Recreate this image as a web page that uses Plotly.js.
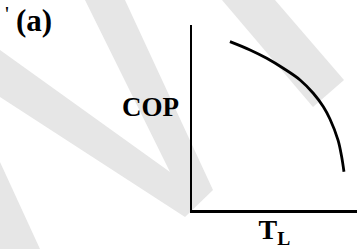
<!DOCTYPE html>
<html>
<head>
<meta charset="utf-8">
<script src="https://cdn.plot.ly/plotly-3.0.1.min.js"></script>
<style>
  html, body { margin: 0; padding: 0; background: #ffffff; }
  #chart { width: 357px; height: 249px; }
</style>
</head>
<body>
<div id="chart"></div>
<script>
// Curve (normalized axes: T_L on x, COP on y, no tick values)
var tL  = [0.230, 0.352, 0.453, 0.553, 0.655, 0.735, 0.796, 0.836, 0.885, 0.907, 0.921];
var cop = [0.910, 0.865, 0.820, 0.766, 0.703, 0.631, 0.558, 0.492, 0.378, 0.288, 0.207];

var panelLabel = "(a)";
var xTitle = "T<sub>L</sub>";
var yTitle = "COP";

var W = 357, H = 249;
var M = {l: 192, r: 0, t: 25, b: 39};
var pw = W - M.l - M.r, ph = H - M.t - M.b;
function px(x) { return ((x - M.l) / pw).toFixed(4); }
function py(y) { return ((H - M.b - y) / ph).toFixed(4); }
function poly(pts) {
  return pts.map(function (p, i) { return (i ? "L" : "M") + px(p[0]) + "," + py(p[1]); }).join(" ") + " Z";
}
// light grey scan watermark bands
var wm = [
  [[85,0],[125,0],[213,190],[185,217],[0,97],[0,50],[170,172]],
  [[0,162],[40,249],[0,249]],
  [[222,0],[275,0],[344,80],[313,107]]
];
var shapes = wm.map(function (p) {
  return {type: "path", xref: "paper", yref: "paper", path: poly(p),
          fillcolor: "#e6e6e6", line: {width: 0}, layer: "below"};
});

var serif = "Liberation Serif, Times New Roman, serif";

var trace = {
  x: tL, y: cop, type: "scatter", mode: "lines",
  line: {color: "#000000", width: 2.8, shape: "spline"},
  hoverinfo: "skip", showlegend: false
};

var layout = {
  width: W, height: H,
  margin: M,
  paper_bgcolor: "#ffffff",
  plot_bgcolor: "rgba(0,0,0,0)",
  showlegend: false,
  xaxis: {
    range: [0, 1], showgrid: false, zeroline: false, showticklabels: false, ticks: "",
    showline: true, linecolor: "#000000", linewidth: 2.5,
    title: {text: "<b>" + xTitle + "</b>", font: {family: serif, size: 28, color: "#000"}, standoff: 11}
  },
  yaxis: {
    range: [0, 1], showgrid: false, zeroline: false, showticklabels: false, ticks: "",
    showline: true, linecolor: "#000000", linewidth: 2.5
  },
  shapes: shapes,
  annotations: [
    {text: "<b>" + yTitle + "</b>", xref: "paper", yref: "paper", x: px(151), y: py(107),
     xanchor: "center", yanchor: "middle", showarrow: false,
     font: {family: serif, size: 27, color: "#000"}},
    {text: "<b>" + panelLabel + "</b>", xref: "paper", yref: "paper", x: px(34), y: py(20),
     xanchor: "center", yanchor: "middle", showarrow: false,
     font: {family: serif, size: 31, color: "#000"}},
    {text: "'", xref: "paper", yref: "paper", x: px(7), y: py(14),
     xanchor: "center", yanchor: "middle", showarrow: false,
     font: {family: serif, size: 22, color: "#000"}}
  ]
};

Plotly.newPlot("chart", [trace], layout, {displayModeBar: false, staticPlot: true});
</script>
</body>
</html>
